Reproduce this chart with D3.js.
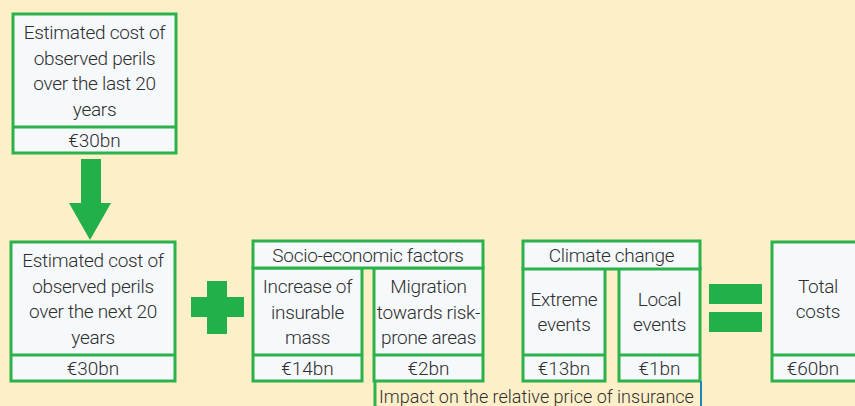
<!DOCTYPE html>
<html>
<head>
<meta charset="utf-8">
<script src="https://cdn.jsdelivr.net/npm/d3@7"></script>
<style>
  body { margin: 0; background: #fdf0c9; }
  svg { display: block; }
  text { font-family: Roboto, "Open Sans", sans-serif; font-weight: 300; fill: #2e2e2e; letter-spacing: -0.3px; }
</style>
</head>
<body>
<svg class="chart"></svg>
<script>
let width = 855,
  height = 406;

// chart content
let boxLines = [
  ["Estimated cost of", "observed perils", "over the last 20", "years"],
  ["Estimated cost of", "observed perils", "over the next 20", "years"],
  ["Increase of", "insurable", "mass"],
  ["Migration", "towards risk-", "prone areas"],
  ["Extreme", "events"],
  ["Local", "events"],
  ["Total", "costs"]
];
let boxValues = [30, 30, 14, 2, 13, 1, 60];
let groupLabels = ["Socio-economic factors", "Climate change"];
let footnote = "Impact on the relative price of insurance";

// where each box sits (stroke centre lines), div = top of value row
let boxLayout = [
  { x: 13, y: 14, w: 163, h: 139, div: 127 },
  { x: 11, y: 242, w: 164, h: 139, div: 355 },
  { x: 253, y: 268, w: 109, h: 113, div: 355 },
  { x: 374, y: 268, w: 109, h: 113, div: 355 },
  { x: 523, y: 268, w: 82, h: 113, div: 355 },
  { x: 619, y: 268, w: 81, h: 113, div: 355 },
  { x: 772, y: 242, w: 92, h: 139, div: 355 }
];
let groupLayout = [
  { x: 253, y: 241, w: 230, h: 27 },
  { x: 523, y: 241, w: 177, h: 28 }
];

let green = "#2bb24b",
  fill = "#f6f9fb",
  lineH = 25.5;

let fmt = (v) => "\u20ac" + v + "bn";

let svg = d3.select(".chart").attr("width", width).attr("height", height);

let boxes = svg
  .selectAll(".box")
  .data(boxLines.map((lines, i) => ({ lines, value: boxValues[i], ...boxLayout[i] })))
  .enter()
  .append("g")
  .attr("class", "box");

boxes
  .append("rect")
  .attr("x", (d) => d.x)
  .attr("y", (d) => d.y)
  .attr("width", (d) => d.w)
  .attr("height", (d) => d.h)
  .attr("fill", fill)
  .attr("stroke", green)
  .attr("stroke-width", 3);

boxes
  .append("line")
  .attr("x1", (d) => d.x)
  .attr("x2", (d) => d.x + d.w)
  .attr("y1", (d) => d.div)
  .attr("y2", (d) => d.div)
  .attr("stroke", green)
  .attr("stroke-width", 3);

// label lines, centred in the upper part
boxes.each(function (d) {
  let mid = (d.y + d.div) / 2;
  let first = mid - ((d.lines.length - 1) * lineH) / 2 + 7;
  d3.select(this)
    .selectAll(".lbl")
    .data(d.lines)
    .enter()
    .append("text")
    .attr("class", "lbl")
    .attr("x", d.x + d.w / 2)
    .attr("y", (l, j) => first + j * lineH)
    .attr("text-anchor", "middle")
    .style("font-size", "19px")
    .text((l) => l);
});

// value row
boxes
  .append("text")
  .attr("x", (d) => Math.min(d.x + d.w / 2, 813))
  .attr("y", (d) => (d.div + d.y + d.h) / 2 + 7)
  .attr("text-anchor", "middle")
  .style("font-size", "19px")
  .style("letter-spacing", "0px")
  .text((d) => fmt(d.value));

// group headers
let groups = svg
  .selectAll(".group")
  .data(groupLabels.map((label, i) => ({ label, ...groupLayout[i] })))
  .enter()
  .append("g")
  .attr("class", "group");

groups
  .append("rect")
  .attr("x", (d) => d.x)
  .attr("y", (d) => d.y)
  .attr("width", (d) => d.w)
  .attr("height", (d) => d.h)
  .attr("fill", fill)
  .attr("stroke", green)
  .attr("stroke-width", 3);

groups
  .append("text")
  .attr("x", (d) => d.x + d.w / 2)
  .attr("y", (d) => d.y + d.h / 2 + 7)
  .attr("text-anchor", "middle")
  .style("font-size", "19px")
  .text((d) => d.label);

// down arrow
svg
  .append("path")
  .attr("d", "M81,159H101V203H111L90,240L69,203H81Z")
  .attr("fill", "#22b04a");

// plus sign
svg
  .append("path")
  .attr("d", "M207,281H227V297H244V317H227V334H207V317H191V297H207Z")
  .attr("fill", "#22b04a");

// equals sign
svg
  .selectAll(".eq")
  .data([284, 312])
  .enter()
  .append("rect")
  .attr("x", 709)
  .attr("y", (d) => d)
  .attr("width", 53)
  .attr("height", 20)
  .attr("fill", "#22b04a");

// footnote bracket
svg
  .append("line")
  .attr("x1", 375).attr("x2", 375)
  .attr("y1", 381).attr("y2", 406)
  .attr("stroke", green)
  .attr("stroke-width", 3);
svg
  .append("line")
  .attr("x1", 701).attr("x2", 701)
  .attr("y1", 381).attr("y2", 406)
  .attr("stroke", "#1f86b8")
  .attr("stroke-width", 2);
svg
  .append("text")
  .attr("x", 379)
  .attr("y", 403)
  .style("font-size", "18px")
  .style("letter-spacing", "0px")
  .text(footnote);
</script>
</body>
</html>
